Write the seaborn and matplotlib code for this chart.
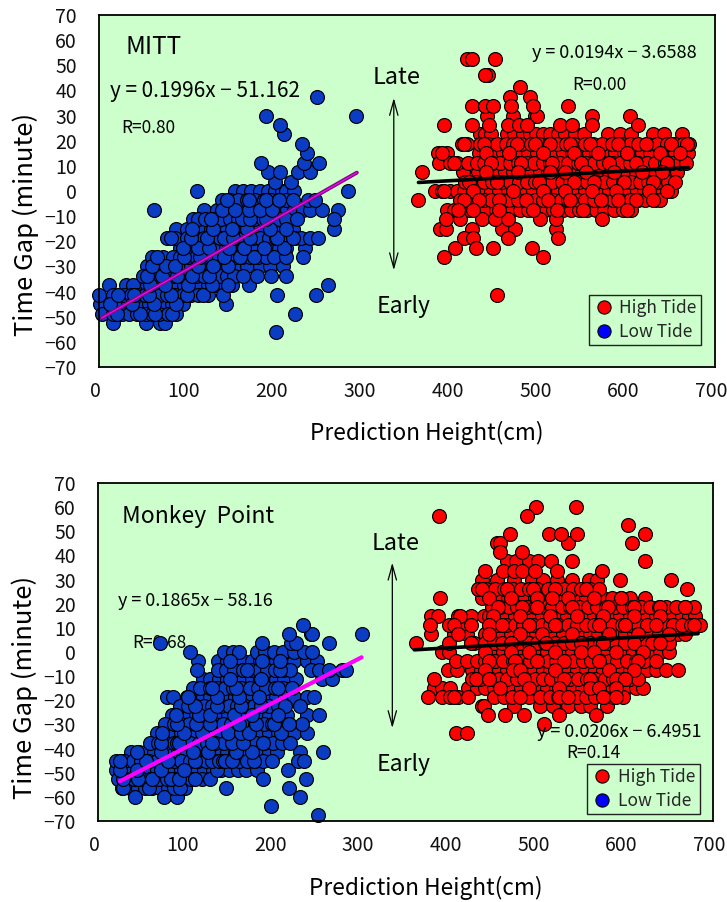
import matplotlib
matplotlib.use("Agg")
import matplotlib.pyplot as plt
from matplotlib.lines import Line2D
from matplotlib.transforms import ScaledTranslation
import pandas as pd
import seaborn as sns

sns.set_theme(style="white")
plt.rcParams['font.family'] = ['Noto Sans CJK JP', 'DejaVu Sans']

x_ticks = [0, 100, 200, 300, 400, 500, 600, 700]
y_ticks = [70, 60, 50, 40, 30, 20, 10, 0, -10, -20, -30, -40, -50, -60, -70]

# ---- MITT, low tide: time gap level -> prediction heights
mitt_low_levels = [-52.5, -45, -37.5, -30, -22.5, -15, -7.5, 0, -48.75, -41.25, -33.75, -26.25, -18.75, -11.25, -3.75,
                   -56.25, 3.75, 7.5, 11.25, 15, 18.75, 22.5, 26.25, 30, 37.5]
mitt_low_heights = [
    [16, 53, 69, 75],
    [1, 16, 25, 33, 42, 50, 57, 66, 74, 83, 91, 96, 144],
    [11, 31, 39, 54, 62, 71, 79, 88, 97, 106, 115, 124, 133, 143, 151, 170, 260],
    [54, 63, 71, 80, 89, 98, 105, 115, 124, 133, 141, 150, 160, 168, 183, 194, 209],
    [92, 100, 109, 118, 126, 135, 144, 151, 161, 170, 178, 188, 196, 205, 213, 234],
    [88, 100, 108, 117, 127, 135, 145, 153, 162, 172, 180, 189, 198, 207, 215, 221, 267],
    [62, 119, 134, 143, 152, 160, 170, 178, 187, 196, 205, 214, 222, 232, 240, 253, 272],
    [111, 155, 164, 173, 183, 192, 200, 208, 213, 222, 283],
    [3, 16, 26, 34, 43, 53, 60, 68, 78, 88, 223],
    [0, 16, 28, 36, 44, 52, 61, 69, 77, 86, 95, 104, 113, 124, 141, 202, 247],
    [50, 58, 67, 76, 84, 93, 102, 110, 119, 128, 137, 146, 153, 164, 179, 195, 213],
    [60, 73, 84, 92, 101, 110, 118, 128, 136, 146, 155, 163, 172, 181, 190, 199, 213, 232],
    [77, 86, 100, 110, 119, 128, 137, 147, 156, 165, 175, 183, 193, 201, 211, 223, 230, 240, 249],
    [107, 112, 121, 131, 139, 149, 158, 167, 176, 186, 194, 204, 213, 225, 267],
    [140, 149, 158, 168, 177, 187, 195, 204, 212, 221, 238, 245],
    [201],
    [200, 218],
    [192, 206, 226, 240],
    [184, 233, 250],
    [236],
    [231],
    [210],
    [206],
    [190, 292],
    [248],
]
mitt_low_top_levels = [-48.75, -45, -41.25, -37.5, -33.75, -30, -26.25, -22.5, -18.75, -15, -11.25, -7.5, -3.75]
mitt_low_top_heights = [
    [21, 47, 64, 83],
    [12, 38, 62, 88],
    [22, 40, 57, 82, 100, 118],
    [58, 75, 101, 128, 147],
    [55, 72, 89, 106, 125],
    [60, 76, 86, 112, 130, 147],
    [66, 97, 115, 142, 160, 176],
    [96, 113, 125, 148, 165, 187, 210],
    [82, 105, 123, 142, 152, 172, 202, 221],
    [106, 130, 151, 168, 194, 213],
    [127, 163, 172, 190],
    [140, 155, 170, 183, 197],
    [146, 170, 190, 205],
]

# ---- MITT, high tide
mitt_high_levels = [-15, -7.5, 0, 7.5, 15, 22.5, 30, 37.5, -11.25, -3.75, 3.75, 11.25, 18.75, 26.25, 33.75, 41.25,
                    46, 52.5, -18.75, -22.5, -26.25, -41.25]
mitt_high_heights = [
    [388, 394, 424, 458, 473, 519],
    [395, 403, 412, 421, 431, 440, 451, 459, 469, 478, 488, 497, 507, 516, 527, 536, 546, 554, 565, 574, 585, 596, 604],
    [382, 390, 399, 407, 415, 427, 436, 446, 455, 465, 474, 484, 493, 504, 513, 522, 532, 541, 552, 561, 571, 580, 591, 600, 611, 619, 630, 640, 650],
    [367, 414, 431, 441, 452, 461, 471, 481, 490, 501, 510, 519, 530, 541, 549, 560, 570, 579, 590, 600, 610, 620, 631, 640, 649, 657],
    [385, 395, 432, 441, 450, 459, 470, 479, 488, 498, 507, 516, 527, 537, 546, 557, 565, 576, 586, 597, 606, 617, 626, 637, 646, 654, 663, 669],
    [433, 439, 445, 464, 472, 482, 490, 497, 505, 513, 522, 530, 541, 551, 578, 592, 604, 630, 642, 662],
    [441, 470, 495, 498, 560, 603],
    [467, 490],
    [394, 410, 435, 450, 465, 501, 519, 572],
    [363, 410, 418, 427, 437, 446, 458, 466, 476, 485, 495, 504, 516, 525, 533, 544, 552, 563, 572, 584, 592, 603, 613, 621, 632, 637],
    [416, 428, 437, 447, 458, 467, 477, 486, 496, 505, 515, 526, 535, 545, 554, 565, 574, 584, 595, 604, 615, 624, 634, 647],
    [386, 399, 407, 419, 430, 438, 447, 456, 467, 476, 486, 494, 505, 513, 524, 533, 544, 553, 563, 573, 584, 592, 603, 612, 623, 632, 643, 651, 660, 667],
    [412, 418, 433, 442, 452, 463, 471, 480, 491, 500, 511, 520, 531, 540, 552, 561, 572, 583, 594, 603, 613, 624, 634, 645, 655, 664, 670],
    [392, 424, 443, 465, 477, 486, 524, 537, 560, 612],
    [424, 439, 448, 468, 493, 533],
    [478],
    [442, 439],
    [418, 424, 450],
    [415, 425, 465, 522],
    [404, 428, 448, 492],
    [392, 505],
    [452],
]
mitt_high_top_levels = [18.75, 15, 11.25, 7.5, 3.75, 0, -3.75, -7.5]
mitt_high_top_heights = [
    [415, 437, 475, 495, 512, 535, 558, 590, 622, 650, 668],
    [390, 440, 466, 505, 540, 567, 600, 638, 660],
    [403, 445, 480, 515, 548, 580, 610, 645],
    [440, 476, 513, 530, 553, 585, 617, 640],
    [420, 452, 500, 540, 563, 597, 630, 655],
    [392, 425, 470, 505, 530, 560, 588, 625, 645],
    [415, 432, 455, 485, 510, 535, 570, 590, 610, 630],
    [408, 425, 455, 493, 520, 550, 600],
]

# ---- Monkey Point, low tide
monkey_low_levels = [-56.25, -48.75, -41.25, -33.75, -26.25, -18.75, -11.25, -3.75, -60, -52.5, -45, -37.5, -30, -22.5, -15, -7.5,
                     0, 3.75, 7.5, 11.25, -63.75, -67.5]
monkey_low_heights = [
    [27, 36, 45, 53, 62, 71, 80, 90, 99, 146, 217],
    [21, 30, 39, 48, 57, 67, 75, 84, 94, 103, 112, 121, 131, 140, 149, 159, 168, 181, 216],
    [38, 47, 55, 64, 74, 83, 91, 101, 110, 119, 128, 138, 147, 156, 165, 176, 184, 195, 204, 230, 256],
    [67, 76, 85, 94, 103, 112, 121, 131, 140, 149, 159, 168, 177, 186, 195, 205, 214, 223, 238],
    [84, 93, 103, 111, 120, 130, 139, 148, 157, 167, 176, 185, 195, 206, 215, 238, 252],
    [78, 85, 101, 110, 119, 128, 138, 147, 156, 165, 175, 184, 194, 203, 213, 223, 238, 246],
    [120, 128, 138, 147, 156, 165, 175, 184, 193, 203, 212, 225, 255, 266],
    [114, 137, 147, 156, 165, 175, 184, 194, 203, 213, 223, 238, 249],
    [42, 75, 90, 230],
    [23, 32, 41, 50, 59, 69, 78, 87, 97, 106, 118, 128, 188, 237],
    [21, 30, 40, 49, 58, 67, 77, 86, 95, 105, 114, 123, 133, 142, 151, 160, 170, 179, 188, 198, 228, 235],
    [59, 68, 77, 87, 96, 105, 115, 124, 133, 143, 152, 161, 170, 180, 189, 199, 209, 219],
    [76, 86, 95, 104, 113, 123, 133, 142, 151, 161, 170, 179, 189, 198, 208, 217, 232],
    [93, 102, 111, 121, 130, 140, 149, 158, 167, 177, 186, 195, 205, 213, 230],
    [108, 116, 127, 136, 145, 154, 163, 173, 182, 191, 201, 210, 221],
    [113, 137, 146, 155, 165, 174, 183, 192, 202, 211, 219, 242, 251, 263, 278, 282],
    [105, 143, 154, 160, 181, 190, 200, 210, 223, 235, 244],
    [70, 187, 220, 225, 263],
    [217, 242, 244, 301],
    [233],
    [197],
    [250],
]
monkey_low_top_levels = [-56.25, -52.5, -48.75, -45, -41.25, -37.5, -33.75, -30, -26.25, -22.5, -18.75, -15, -11.25, -7.5, -3.75]
monkey_low_top_heights = [
    [29, 58, 86, 93],
    [28, 46, 62, 83, 92, 110],
    [25, 44, 72, 98, 135],
    [25, 55, 80, 110, 130, 138, 142, 145, 152, 178],
    [44, 72, 108, 125, 157, 175],
    [72, 90, 92, 130, 152, 165, 188],
    [73, 98, 118, 148, 163, 172, 208],
    [90, 112, 128, 160, 180, 200, 217],
    [89, 115, 128, 155, 175, 205],
    [110, 135, 163, 185],
    [103, 135, 160, 183],
    [130, 157, 205],
    [150, 185],
    [165, 170, 207],
    [150, 187, 207],
]

# ---- Monkey Point, high tide
monkey_high_levels = [-22.5, -15, -7.5, 0, 7.5, 15, 22.5, 30, 37.5, 45, 52.5, 60, -26.25, -30, -33.75,
                      -18.75, -11.25, -3.75, 3.75, 11.25, 18.75, 26.25, 33.75, 41.25, 48.75, 56.25]
monkey_high_heights = [
    [437, 439, 473, 503, 518, 535, 550, 560, 579],
    [382, 391, 401, 421, 431, 441, 451, 461, 470, 481, 490, 500, 511, 521, 530, 541, 551, 561, 572, 581, 591, 601, 612, 620],
    [398, 409, 426, 436, 445, 456, 465, 476, 485, 496, 506, 515, 526, 536, 545, 556, 566, 575, 586, 596, 605, 616, 625, 635, 647, 660],
    [391, 399, 442, 452, 461, 471, 482, 491, 500, 511, 520, 531, 540, 550, 560, 570, 579, 590, 599, 609, 619, 629, 640, 650],
    [379, 405, 420, 440, 450, 459, 470, 480, 489, 499, 510, 519, 529, 540, 549, 560, 569, 580, 589, 600, 610, 619, 630, 639, 650, 660, 668],
    [379, 387, 410, 425, 439, 445, 455, 464, 475, 485, 494, 505, 514, 525, 534, 545, 554, 565, 574, 585, 594, 605, 614, 625, 635, 645, 655, 665, 673, 680],
    [389, 437, 447, 458, 467, 477, 486, 497, 506, 516, 526, 535, 547, 556, 565, 575, 585, 595, 605, 623],
    [437, 454, 473, 494, 506, 522, 539, 559, 568, 594, 652],
    [465, 476, 490, 501, 516, 540, 623],
    [454, 458, 535, 608],
    [603],
    [499, 544],
    [444, 463, 485, 525, 567],
    [508],
    [408, 420],
    [376, 391, 401, 410, 421, 451, 462, 471, 481, 491, 503, 514, 524, 534, 545, 556, 566, 576, 586, 598],
    [382, 426, 435, 447, 456, 466, 477, 486, 497, 506, 516, 527, 537, 546, 557, 566, 577, 586, 597, 606, 615],
    [408, 420, 431, 441, 452, 461, 472, 481, 492, 501, 512, 521, 532, 541, 552, 561, 572, 582, 591, 602, 612, 622, 635],
    [362, 399, 428, 441, 451, 460, 470, 479, 490, 500, 509, 520, 530, 539, 550, 560, 571, 580, 590, 600, 611, 620, 631, 640, 650],
    [378, 399, 412, 425, 445, 455, 464, 475, 484, 495, 505, 515, 524, 535, 545, 555, 564, 575, 585, 596, 605, 615, 625, 636, 646, 655, 665, 675, 685],
    [448, 458, 468, 477, 488, 497, 508, 517, 528, 537, 548, 558, 568, 578, 588, 597, 608, 618, 628, 638, 647, 658, 668, 678],
    [433, 442, 452, 462, 472, 481, 491, 500, 512, 521, 530, 541, 550, 560, 570, 670],
    [440, 461, 473, 483, 497, 523, 574],
    [458, 483],
    [469, 513, 527, 545, 623],
    [388, 488],
]
monkey_high_top_levels = [26.25, 22.5, 18.75, 15, 11.25, 7.5, 3.75, 0, -3.75, -7.5, -11.25, -15, -18.75]
monkey_high_top_heights = [
    [437, 465, 495, 520, 555],
    [445, 470, 500, 517, 535, 565, 595],
    [455, 483, 500, 540, 580, 610, 640, 668],
    [412, 450, 480, 515, 545, 575, 610, 640],
    [405, 445, 460, 490, 520, 570, 600, 635, 678],
    [410, 445, 480, 505, 540, 582, 615, 650],
    [425, 470, 510, 550, 575, 610, 640],
    [440, 470, 490, 520, 550, 565, 590, 620],
    [445, 475, 500, 530, 570, 615],
    [440, 472, 480, 520, 582, 610],
    [430, 445, 485, 530, 560, 590, 600],
    [457, 490, 525, 560, 570, 590],
    [405, 480, 525, 535, 575, 590],
]

# ---- trend line end points
mitt_low_line_x, mitt_low_line_y = [3, 293], [-50.5, 7.3]
mitt_high_line_x, mitt_high_line_y = [363, 670], [3.4, 9.3]
monkey_low_line_x, monkey_low_line_y = [25, 300], [-53.5, -2.2]
monkey_high_line_x, monkey_high_line_y = [360, 683], [0.9, 7.6]

BG = '#CCFFCC'
BLUE = '#0A3CC4'
W, H = 727, 902
fig = plt.figure(figsize=(W / 100, H / 100), dpi=100)


def frame(levels, heights):
    return pd.DataFrame({'y': levels, 'x': heights}).explode('x').astype(float).reset_index(drop=True)


def put(ax, px, py, s, size, z=1, **kw):
    ax.text(px / W, 1 - py / H, s, transform=fig.transFigure, fontsize=size, va='center', color='black',
            zorder=z, clip_on=False, **kw)


def dots(ax, levels, heights, color, z):
    sns.scatterplot(data=frame(levels, heights), x='x', y='y', color=color, edgecolor='black', linewidth=0.85,
                    s=100, clip_on=False, zorder=z, legend=False, ax=ax)


def panel(box, low, low_top, high, high_top, low_line, high_line, low_style, legend_box):
    l, t, r, b = box
    ax = fig.add_axes([l / W, 1 - b / H, (r - l) / W, (b - t) / H])
    ax.set_facecolor(BG)
    dots(ax, *low, BLUE, 2)
    dots(ax, *low_top, BLUE, 2.1)
    dots(ax, *high, '#FF0000', 2)
    dots(ax, *high_top, '#FF0000', 2.1)
    for color, lw in low_style:
        sns.lineplot(x=low_line[0], y=low_line[1], color=color, lw=lw, zorder=3, ax=ax, legend=False)
    sns.lineplot(x=high_line[0], y=high_line[1], color='black', lw=2.6, zorder=3, ax=ax, legend=False)
    ax.set_xlim(0, 700)
    ax.set_ylim(-70, 70)
    ax.set_xticks(x_ticks)
    ax.set_yticks(y_ticks)
    ax.set_yticklabels([str(v).replace('-', '\u2212') for v in y_ticks])
    ax.tick_params(axis='both', direction='in', length=4.5, width=1, color='black', labelsize=14, labelcolor='#111111')
    ax.tick_params(axis='x', pad=10)
    ax.tick_params(axis='y', pad=16)
    shift = ScaledTranslation(-3.5 / 100, 0, fig.dpi_scale_trans)
    for lab in ax.get_xticklabels():
        lab.set_transform(lab.get_transform() + shift)
    for sp in ax.spines.values():
        sp.set_visible(True)
        sp.set_color('black')
        sp.set_linewidth(1.3)
    ax.set_xlabel('')
    ax.set_ylabel('')
    ax.annotate('', xy=(335, 37), xytext=(335, -31.5), zorder=1,
                arrowprops=dict(arrowstyle='<->,head_length=0.9,head_width=0.25', color='black', lw=0.9,
                                shrinkA=0, shrinkB=0))
    handles = [Line2D([], [], marker='o', ls='', mfc='#FF0000', mec='black', mew=0.8, ms=9.5, label='High Tide'),
               Line2D([], [], marker='o', ls='', mfc='#0000FF', mec='black', mew=0.8, ms=9.5, label='Low Tide')]
    lx0, ly0, lx1, ly1 = legend_box
    leg = ax.legend(handles=handles, loc='center', bbox_to_anchor=((lx0 + lx1) / 2 / W, 1 - (ly0 + ly1) / 2 / H),
                    bbox_transform=fig.transFigure, fontsize=12.5, frameon=True, fancybox=False, facecolor=BG,
                    edgecolor='#222222', framealpha=1, borderpad=0.25, labelspacing=0.3, handletextpad=0.3,
                    handlelength=1.2, borderaxespad=0)
    leg.get_frame().set_linewidth(1)
    leg.set_zorder(5)
    return ax


ax1 = panel((99, 15, 715, 367), (mitt_low_levels, mitt_low_heights), (mitt_low_top_levels, mitt_low_top_heights),
            (mitt_high_levels, mitt_high_heights), (mitt_high_top_levels, mitt_high_top_heights),
            (mitt_low_line_x, mitt_low_line_y), (mitt_high_line_x, mitt_high_line_y),
            [('#7A0A7A', 2.8), ('#FF00FF', 0.9)], (592, 294, 698, 346))
ax2 = panel((98, 483, 713, 821), (monkey_low_levels, monkey_low_heights), (monkey_low_top_levels, monkey_low_top_heights),
            (monkey_high_levels, monkey_high_heights), (monkey_high_top_levels, monkey_high_top_heights),
            (monkey_low_line_x, monkey_low_line_y), (monkey_high_line_x, monkey_high_line_y),
            [('#FF00FF', 3.0)], (591, 764, 696, 814))

put(ax1, 126, 47, 'MITT', 17.5)
put(ax1, 110, 91, 'y = 0.1996x \u2212 51.162', 15)
put(ax1, 121, 128, 'R=0.80', 12.5)
put(ax1, 532, 53, 'y = 0.0194x \u2212 3.6588', 13)
put(ax1, 572, 85, 'R=0.00', 12.5)
put(ax1, 373, 77, 'Late', 17)
put(ax1, 377, 306, 'Early', 16.5)

put(ax2, 122, 517, 'Monkey  Point', 16.5)
put(ax2, 118, 601, 'y = 0.1865x \u2212 58.16', 13)
put(ax2, 132, 643, 'R=0.68', 12.5)
put(ax2, 537, 732, 'y = 0.0206x \u2212 6.4951', 13, z=4)
put(ax2, 566, 753, 'R=0.14', 12.5, z=4)
put(ax2, 372, 544, 'Late', 17)
put(ax2, 377, 765, 'Early', 16.5)

for cx, cy in [(26, 224), (25, 687)]:
    fig.text(cx / W, 1 - cy / H, 'Time Gap (minute)', rotation=90, ha='center', va='center', fontsize=18.5, color='black')
for lx, cy in [(310, 433), (309, 888)]:
    fig.text(lx / W, 1 - cy / H, 'Prediction Height(cm)', ha='left', va='center', fontsize=16.3, color='black')

fig.savefig('out.png', dpi=100, facecolor='white')
